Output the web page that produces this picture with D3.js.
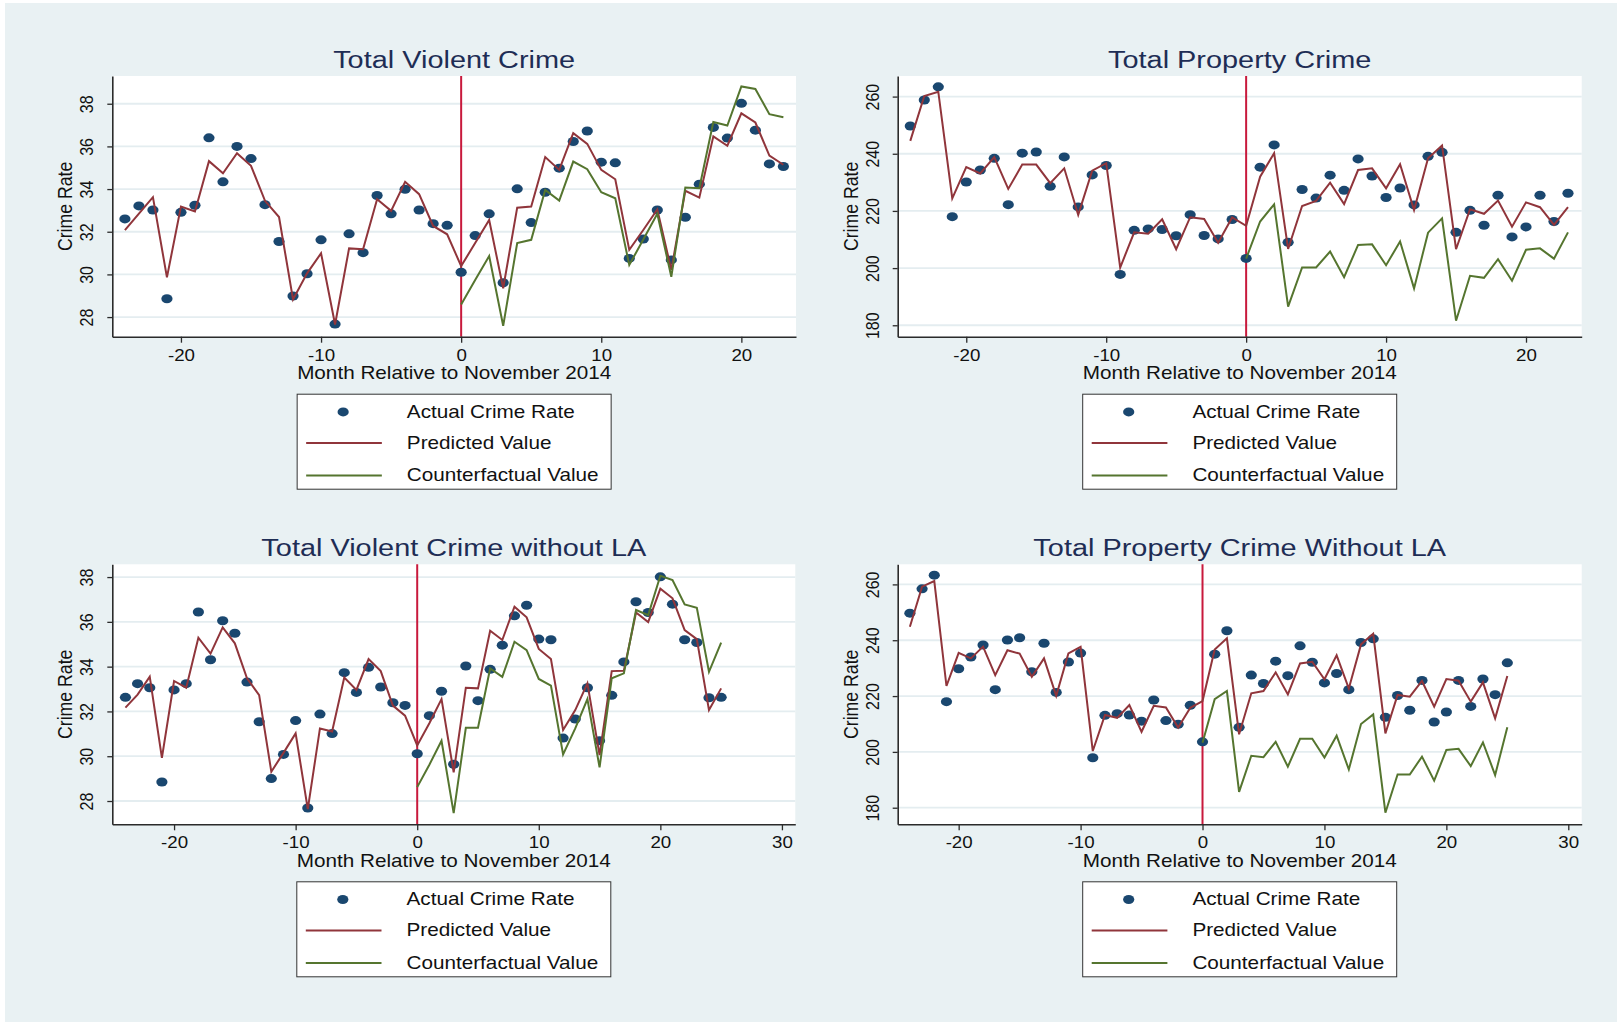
<!DOCTYPE html>
<html>
<head>
<meta charset="utf-8">
<script src="https://cdn.jsdelivr.net/npm/d3@7"></script>
<style>
  html, body { margin: 0; padding: 0; background: #ffffff; }
  svg { display: block; }
  text { font-family: "Liberation Sans", Arial, sans-serif; }
</style>
</head>
<body>
<svg id="chart" width="1617" height="1022"></svg>
<script>
// ---------------------------------------------------------------
// Crime rate by month relative to November 2014
// ---------------------------------------------------------------

// Months (full sample runs to +23, sample without LA runs to +25)
const monthsAll = [-24,-23,-22,-21,-20,-19,-18,-17,-16,-15,-14,-13,-12,-11,-10,-9,-8,-7,-6,-5,-4,-3,-2,-1,
                   0,1,2,3,4,5,6,7,8,9,10,11,12,13,14,15,16,17,18,19,20,21,22,23];
const monthsNoLA = [-24,-23,-22,-21,-20,-19,-18,-17,-16,-15,-14,-13,-12,-11,-10,-9,-8,-7,-6,-5,-4,-3,-2,-1,
                    0,1,2,3,4,5,6,7,8,9,10,11,12,13,14,15,16,17,18,19,20,21,22,23,24,25];
const cfMonthsAll = [0,1,2,3,4,5,6,7,8,9,10,11,12,13,14,15,16,17,18,19,20,21,22,23];
const cfMonthsNoLA = [0,1,2,3,4,5,6,7,8,9,10,11,12,13,14,15,16,17,18,19,20,21,22,23,24,25];

// Total violent crime
const violentActual = [32.60,33.21,33.02,28.86,32.91,33.24,36.40,34.34,36.00,35.43,33.27,31.54,28.99,30.03,31.62,27.67,31.90,31.02,33.70,32.84,33.99,33.02,32.38,32.30,
                       30.10,31.82,32.84,29.61,34.01,32.43,33.85,34.98,36.23,36.72,35.26,35.23,30.75,31.66,33.02,30.68,32.68,34.23,36.89,36.39,38.02,36.76,35.18,35.06];
const violentPredicted = [32.08,32.85,33.62,29.86,33.18,32.95,35.31,34.74,35.68,35.09,33.45,32.69,28.83,30.05,30.99,27.65,31.22,31.18,33.52,32.98,34.34,33.76,32.27,31.88,
                          30.39,31.47,32.55,29.35,33.13,33.18,35.50,34.90,36.62,36.12,34.90,34.46,31.15,32.08,33.05,30.21,33.92,33.60,36.47,36.03,37.55,37.12,35.57,35.14];
const violentCounterfactual = [28.59,29.74,30.86,27.59,31.47,31.62,33.96,33.46,35.29,34.93,33.85,33.57,30.44,31.64,32.84,29.89,34.07,34.04,37.14,36.98,38.81,38.69,37.51,37.37];

// Total property crime
const propertyActual = [249.7,258.8,263.4,218.0,230.1,234.3,238.4,222.2,240.2,240.6,228.6,238.9,221.4,232.6,235.9,197.8,213.2,213.7,213.5,211.3,218.7,211.4,210.2,217.0,
                        203.4,235.3,243.1,209.0,227.5,224.5,232.5,227.2,238.2,232.2,224.7,228.0,222.1,239.1,240.5,212.5,220.2,215.0,225.5,210.9,214.4,225.5,216.3,226.2];
const propertyPredicted = [244.5,260.2,261.7,224.4,235.3,233.1,238.8,227.7,236.2,236.2,229.7,234.9,218.6,234.1,236.7,200.2,212.5,212.0,217.1,206.6,217.8,217.2,208.9,217.7,
                           214.8,232.0,240.2,206.7,221.7,223.5,229.9,222.4,234.3,234.9,227.9,236.3,220.3,238.4,242.9,206.6,220.6,219.0,223.6,214.5,223.0,221.3,215.1,221.3];
const propertyCounterfactual = [203.3,216.3,222.3,186.5,200.2,200.2,205.8,196.8,208.1,208.3,201.0,209.3,192.9,212.4,217.4,181.6,197.3,196.6,203.1,195.6,206.4,206.9,203.3,212.5];

// Total violent crime without LA
const violentNoLAActual = [32.63,33.24,33.06,28.85,32.96,33.24,36.44,34.31,36.05,35.49,33.31,31.54,29.00,30.08,31.59,27.69,31.88,31.01,33.73,32.85,33.97,33.09,32.39,32.27,
                           30.11,31.81,32.90,29.64,34.03,32.48,33.88,34.96,36.27,36.74,35.23,35.20,30.81,31.66,33.06,30.69,32.72,34.21,36.90,36.42,38.01,36.79,35.20,35.08,32.61,32.63];
const violentNoLAPredicted = [32.17,32.75,33.55,29.93,33.36,33.06,35.29,34.58,35.75,35.04,33.48,32.73,29.31,30.15,31.02,27.64,31.24,31.10,33.51,32.96,34.34,33.80,32.26,31.81,
                             30.48,31.47,32.55,29.28,33.06,33.03,35.60,35.19,36.68,36.20,34.79,34.34,31.17,32.06,33.25,30.05,33.80,33.82,36.42,35.99,37.48,37.05,35.63,35.23,32.06,33.03];
const violentNoLACounterfactual = [28.62,29.62,30.69,27.46,31.27,31.27,33.92,33.54,35.11,34.74,33.45,33.15,30.08,31.24,32.55,29.50,33.48,33.70,36.53,36.30,38.06,37.87,36.78,36.63,33.77,35.07];

// Total property crime without LA
const propertyNoLAActual = [249.7,258.4,263.3,218.0,229.8,234.0,238.3,222.3,240.1,240.9,228.7,238.9,221.3,232.2,235.4,197.9,213.1,213.7,213.2,211.0,218.6,211.2,209.9,216.7,
                            203.6,235.0,243.4,208.8,227.5,224.5,232.5,227.3,238.0,232.1,224.7,228.1,222.3,239.2,240.5,212.4,220.2,214.9,225.6,210.7,214.3,225.6,216.3,226.1,220.5,231.9];
const propertyNoLAPredicted = [244.8,259.2,261.2,223.6,235.5,233.5,237.7,227.5,236.4,235.2,226.9,233.5,220.1,235.3,237.6,200.3,213.2,212.2,216.8,207.2,216.5,215.9,208.7,215.8,
                               218.2,236.7,240.7,206.3,221.0,221.8,228.5,220.6,231.7,232.3,226.0,234.6,222.7,238.5,242.3,206.6,220.4,219.8,225.4,216.2,226.1,225.5,218.0,224.9,212.0,227.2];
const propertyNoLACounterfactual = [203.3,218.9,221.8,185.7,198.6,198.1,203.6,194.7,204.7,204.7,198.0,205.8,193.7,210.0,213.4,178.2,191.9,191.9,198.3,189.7,200.7,201.1,194.9,203.4,191.7,208.8];

// Tick labels
const xTicksShort = [-20, -10, 0, 10, 20];
const xTicksLong = [-20, -10, 0, 10, 20, 30];
const yTicksViolent = [28, 30, 32, 34, 36, 38];
const yTicksProperty = [180, 200, 220, 240, 260];

const panelTitles = ["Total Violent Crime", "Total Property Crime", "Total Violent Crime without LA", "Total Property Crime Without LA"];
const legendLabels = ["Actual Crime Rate", "Predicted Value", "Counterfactual Value"];
const xAxisTitle = "Month Relative to November 2014";
const yAxisTitle = "Crime Rate";

// ---------------------------------------------------------------
// Layout and style
// ---------------------------------------------------------------
const COLORS = {
  page: "#e9f1f3",
  plot: "#ffffff",
  grid: "#e4edf0",
  axis: "#2b2b2b",
  title: "#1e2d55",
  text: "#111111",
  actual: "#1a476f",
  predicted: "#90353b",
  counterfactual: "#55752f",
  xline: "#c8193c"
};
const SX = 1.17;        // horizontal stretch applied to all lettering
const FONT_TICK = 16;
const FONT_LABEL = 17.7;
const FONT_TITLE = 24.7;
const plainNumber = d => String(d);   // ASCII hyphen for negative ticks

const panels = [
  { title: panelTitles[0], months: monthsAll, cfMonths: cfMonthsAll,
    actual: violentActual, predicted: violentPredicted, cf: violentCounterfactual,
    box: { x0: 112.3, x1: 796, y0: 76, y1: 336.7 },
    xDomain: [-24.9, 23.9], yDomain: [27.08, 39.3], xTicks: xTicksShort, yTicks: yTicksViolent },
  { title: panelTitles[1], months: monthsAll, cfMonths: cfMonthsAll,
    actual: propertyActual, predicted: propertyPredicted, cf: propertyCounterfactual,
    box: { x0: 897.7, x1: 1581.7, y0: 76, y1: 336.7 },
    xDomain: [-24.9, 23.98], yDomain: [176.0, 267.2], xTicks: xTicksShort, yTicks: yTicksProperty },
  { title: panelTitles[2], months: monthsNoLA, cfMonths: cfMonthsNoLA,
    actual: violentNoLAActual, predicted: violentNoLAPredicted, cf: violentNoLACounterfactual,
    box: { x0: 112.3, x1: 795.3, y0: 564.3, y1: 824.3 },
    xDomain: [-25.08, 31.1], yDomain: [26.96, 38.57], xTicks: xTicksLong, yTicks: yTicksViolent },
  { title: panelTitles[3], months: monthsNoLA, cfMonths: cfMonthsNoLA,
    actual: propertyNoLAActual, predicted: propertyNoLAPredicted, cf: propertyNoLACounterfactual,
    box: { x0: 897.7, x1: 1581.7, y0: 564.3, y1: 824.3 },
    xDomain: [-25.0, 31.1], yDomain: [174.06, 267.2], xTicks: xTicksLong, yTicks: yTicksProperty }
];

const svg = d3.select("#chart");

// page background (thin white margin on the top and left edges)
svg.append("rect").attr("x", 5).attr("y", 3).attr("width", 1612).attr("height", 1019).attr("fill", COLORS.page);

// stretched text helper
function label(g, x, y, str, size, color, anchor) {
  return g.append("text")
    .attr("transform", `translate(${x},${y}) scale(${SX},1)`)
    .attr("text-anchor", anchor || "middle")
    .attr("dominant-baseline", "central")
    .attr("font-size", size)
    .attr("fill", color || COLORS.text)
    .text(str);
}

panels.forEach(p => {
  const b = p.box;
  const g = svg.append("g");
  const x = d3.scaleLinear().domain(p.xDomain).range([b.x0, b.x1]);
  const y = d3.scaleLinear().domain(p.yDomain).range([b.y1, b.y0]);
  const cx = (b.x0 + b.x1) / 2;

  // plot region
  g.append("rect").attr("x", b.x0).attr("y", b.y0).attr("width", b.x1 - b.x0).attr("height", b.y1 - b.y0)
    .attr("fill", COLORS.plot);

  // horizontal gridlines
  g.append("g").selectAll("line").data(p.yTicks).join("line")
    .attr("x1", b.x0).attr("x2", b.x1)
    .attr("y1", d => y(d)).attr("y2", d => y(d))
    .attr("stroke", COLORS.grid).attr("stroke-width", 1.8);

  // reference line at month 0
  g.append("line")
    .attr("x1", x(0)).attr("x2", x(0)).attr("y1", b.y0).attr("y2", b.y1)
    .attr("stroke", COLORS.xline).attr("stroke-width", 2);

  // actual crime rate markers
  g.append("g").selectAll("ellipse").data(p.months).join("ellipse")
    .attr("cx", d => x(d))
    .attr("cy", (d, i) => y(p.actual[i]))
    .attr("rx", 5.6).attr("ry", 4.5)
    .attr("fill", COLORS.actual);

  // predicted and counterfactual lines
  const predLine = d3.line().x(d => x(d[0])).y(d => y(d[1]));
  g.append("path")
    .datum(p.months.map((m, i) => [m, p.predicted[i]]))
    .attr("d", predLine)
    .attr("fill", "none").attr("stroke", COLORS.predicted).attr("stroke-width", 2)
    .attr("stroke-linejoin", "miter");
  g.append("path")
    .datum(p.cfMonths.map((m, i) => [m, p.cf[i]]))
    .attr("d", predLine)
    .attr("fill", "none").attr("stroke", COLORS.counterfactual).attr("stroke-width", 2)
    .attr("stroke-linejoin", "miter");

  // axes
  const xAxis = g.append("g").attr("transform", `translate(0,${b.y1})`)
    .call(d3.axisBottom(x).tickValues(p.xTicks).tickFormat(plainNumber).tickSize(6).tickPadding(0).tickSizeOuter(0));
  xAxis.select(".domain").attr("stroke", COLORS.axis).attr("stroke-width", 1.6);
  xAxis.selectAll(".tick line").attr("stroke", COLORS.axis).attr("stroke-width", 1.3);
  xAxis.selectAll(".tick text")
    .attr("x", null).attr("y", null).attr("dy", null)
    .attr("transform", `translate(0,18.5) scale(${SX},1)`)
    .attr("dominant-baseline", "central")
    .attr("font-size", FONT_TICK).attr("font-family", null).attr("fill", COLORS.text);

  const yAxis = g.append("g").attr("transform", `translate(${b.x0},0)`)
    .call(d3.axisLeft(y).tickValues(p.yTicks).tickFormat(plainNumber).tickSize(5).tickPadding(0).tickSizeOuter(0));
  yAxis.select(".domain").attr("stroke", COLORS.axis).attr("stroke-width", 1.6);
  yAxis.selectAll(".tick line").attr("stroke", COLORS.axis).attr("stroke-width", 1.3);
  yAxis.selectAll(".tick text")
    .attr("x", null).attr("y", null).attr("dy", null)
    .attr("transform", `translate(-25.5,0) rotate(-90) scale(1,${SX})`)
    .attr("text-anchor", "middle")
    .attr("dominant-baseline", "central")
    .attr("font-size", FONT_TICK).attr("font-family", null).attr("fill", COLORS.text);

  // titles
  label(g, cx, b.y0 - 16.5, p.title, FONT_TITLE, COLORS.title);
  label(g, cx, b.y1 + 36.5, xAxisTitle, FONT_LABEL, COLORS.text);
  g.append("text")
    .attr("transform", `translate(${b.x0 - 47},${(b.y0 + b.y1) / 2}) rotate(-90) scale(1,${SX})`)
    .attr("text-anchor", "middle").attr("dominant-baseline", "central")
    .attr("font-size", FONT_LABEL).attr("fill", COLORS.text)
    .text(yAxisTitle);

  // legend
  const lg = g.append("g").attr("transform", `translate(${cx - 157},${b.y1 + 57.5})`);
  lg.append("rect").attr("x", 0).attr("y", 0).attr("width", 314).attr("height", 95)
    .attr("fill", "#ffffff").attr("stroke", "#333333").attr("stroke-width", 1);
  lg.append("ellipse").attr("cx", 46).attr("cy", 17.7).attr("rx", 5.6).attr("ry", 4.5).attr("fill", COLORS.actual);
  lg.append("line").attr("x1", 9).attr("x2", 84.7).attr("y1", 48.7).attr("y2", 48.7)
    .attr("stroke", COLORS.predicted).attr("stroke-width", 2);
  lg.append("line").attr("x1", 9).attr("x2", 84.7).attr("y1", 81.3).attr("y2", 81.3)
    .attr("stroke", COLORS.counterfactual).attr("stroke-width", 2);
  [17.7, 48.7, 81.3].forEach((ly, i) => label(lg, 109.7, ly, legendLabels[i], FONT_LABEL, COLORS.text, "start"));
});
</script>
</body>
</html>
